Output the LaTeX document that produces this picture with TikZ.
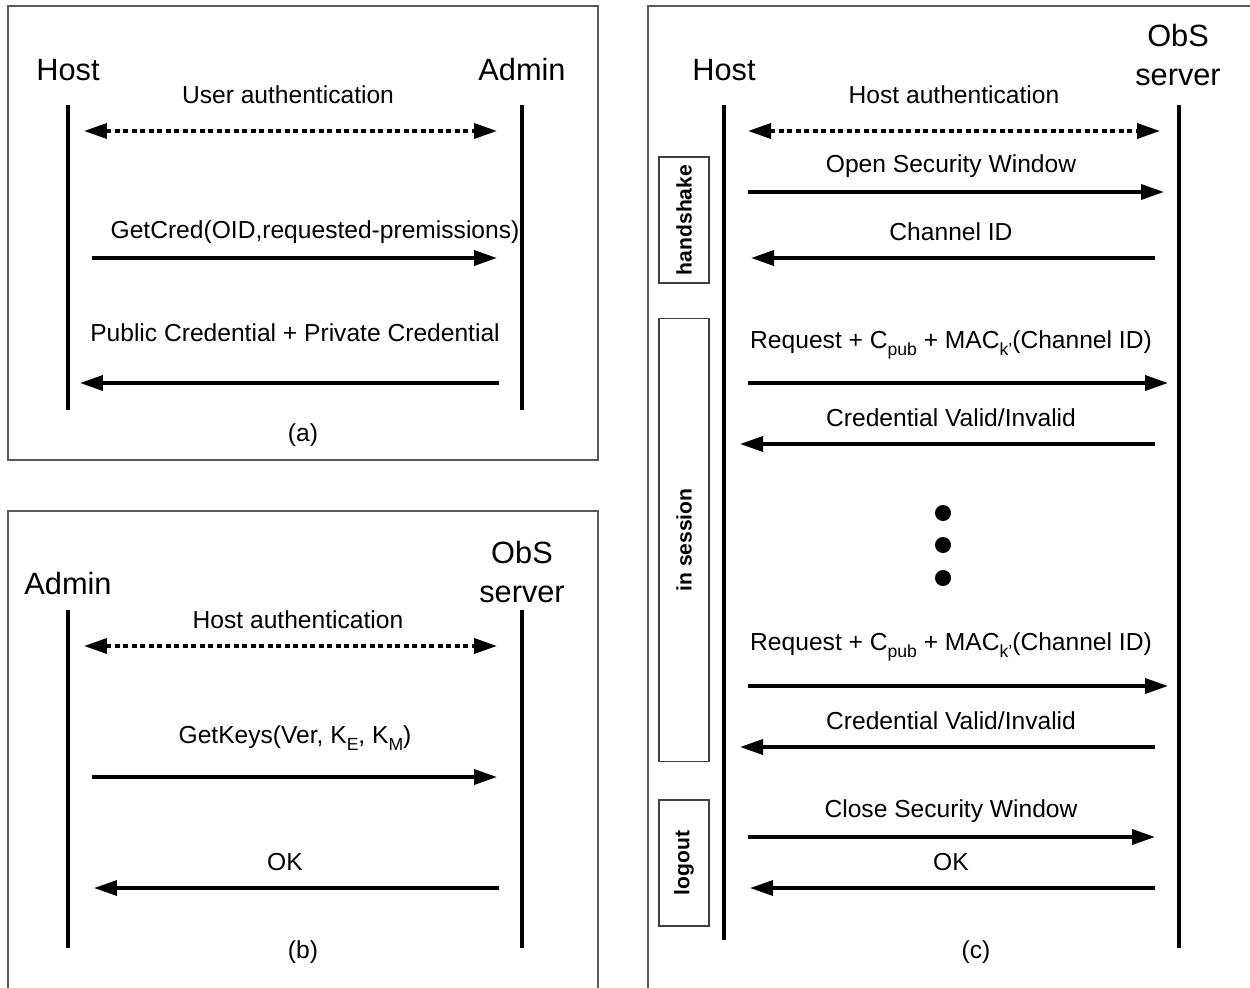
\documentclass[tikz,border=0pt]{standalone}
\usepackage{fontspec}
\setmainfont{Liberation Sans}
\usetikzlibrary{arrows.meta}
\newcommand{\lsub}[1]{\raisebox{-0.55ex}{\fontsize{10}{12}\selectfont #1}}
\begin{document}
\begin{tikzpicture}[x=0.02cm,y=-0.02cm,
  lbl/.style={font=\fontsize{14}{16}\selectfont, inner sep=0pt},
  actor/.style={font=\fontsize{17.5}{22}\selectfont, inner sep=0pt, align=center},
  life/.style={line width=2pt},
  msg/.style={line width=2pt, -{Triangle[length=0.46cm,width=0.3cm]}},
  dmsg/.style={line width=2pt, {Triangle[length=0.46cm,width=0.3cm]}-{Triangle[length=0.46cm,width=0.3cm]}, dash pattern=on 0.1cm off 0.07cm},
  frame/.style={draw=black!65, line width=0.8pt},
  phase/.style={draw=black!75, line width=0.6pt, minimum height=1cm, font=\bfseries\fontsize{12}{14}\selectfont, inner sep=0pt},
  dot/.style={circle, fill=black, inner sep=0pt, minimum size=0.32cm}]
\useasboundingbox (0,0) rectangle (1250,987);
\fill[white] (0,0) rectangle (1250,987);

% ---------- frames ----------
\draw[frame] (8,6) rectangle (598,460);
\draw[frame] (8,511) rectangle (598,992);
\draw[frame] (648,6) rectangle (1254,992);

% ---------- panel (a) ----------
\node[actor] (aHost) at (68,70) {Host};
\node[actor] (aAdmin) at (522,70) {Admin};
\coordinate (aH1) at (68,105); \coordinate (aH2) at (68,410);
\coordinate (aA1) at (522,105); \coordinate (aA2) at (522,410);
\draw[life] (aH1) -- (aH2);
\draw[life] (aA1) -- (aA2);
\node[lbl] (aL1) at (288,95) {User authentication};
\coordinate (a1s) at (84,131); \coordinate (a1e) at (497,131);
\draw[dmsg] (a1s) -- (a1e);
\node[lbl] (aL2) at (315,232) {GetCred(OID,requested-premissions)};
\coordinate (a2s) at (92,258); \coordinate (a2e) at (497,258);
\draw[msg] (a2s) -- (a2e);
\node[lbl] (aL3) at (295,333) {Public Credential + Private Credential};
\coordinate (a3s) at (499,383); \coordinate (a3e) at (80,383);
\draw[msg] (a3s) -- (a3e);
\node[lbl] (aCap) at (303,435) {(a)};

% ---------- panel (b) ----------
\node[actor] (bAdmin) at (68,584) {Admin};
\node[actor] (bObS) at (522,572) {ObS\\server};
\coordinate (bA1) at (68,610); \coordinate (bA2) at (68,948);
\coordinate (bO1) at (522,610); \coordinate (bO2) at (522,948);
\draw[life] (bA1) -- (bA2);
\draw[life] (bO1) -- (bO2);
\node[lbl] (bL1) at (298,620) {Host authentication};
\coordinate (b1s) at (84,646); \coordinate (b1e) at (497,646);
\draw[dmsg] (b1s) -- (b1e);
\node[lbl] (bL2) at (295,738) {GetKeys(Ver, K\lsub{E}, K\lsub{M})};
\coordinate (b2s) at (92,777); \coordinate (b2e) at (497,777);
\draw[msg] (b2s) -- (b2e);
\node[lbl] (bL3) at (285,862) {OK};
\coordinate (b3s) at (499,888); \coordinate (b3e) at (94,888);
\draw[msg] (b3s) -- (b3e);
\node[lbl] (bCap) at (303,952) {(b)};

% ---------- panel (c) ----------
\node[actor] (cHost) at (724,70) {Host};
\node[actor] (cObS) at (1178,55) {ObS\\server};
\coordinate (cH1) at (724,105); \coordinate (cH2) at (724,940);
\coordinate (cO1) at (1179,105); \coordinate (cO2) at (1179,948);
\draw[life] (cH1) -- (cH2);
\draw[life] (cO1) -- (cO2);

\node[phase, minimum width=2.52cm, rotate=90] (hs) at (684,220) {handshake};
\node[phase, minimum width=8.88cm, rotate=90] (ins) at (684,540) {in session};
\node[phase, minimum width=2.52cm, rotate=90] (lo) at (684,863) {logout};

\node[lbl] (cL1) at (954,95) {Host authentication};
\coordinate (c1s) at (748,131); \coordinate (c1e) at (1160,131);
\draw[dmsg] (c1s) -- (c1e);

\node[lbl] (cL2) at (951,166) {Open Security Window};
\coordinate (c2s) at (748,192); \coordinate (c2e) at (1164,192);
\draw[msg] (c2s) -- (c2e);

\node[lbl] (cL3) at (951,232) {Channel ID};
\coordinate (c3s) at (1155,258); \coordinate (c3e) at (751,258);
\draw[msg] (c3s) -- (c3e);

\node[lbl] (cL4) at (951,345) {Request + C\lsub{pub} + MAC\lsub{k'}(Channel ID)};
\coordinate (c4s) at (748,383); \coordinate (c4e) at (1168,383);
\draw[msg] (c4s) -- (c4e);

\node[lbl] (cL5) at (951,418) {Credential Valid/Invalid};
\coordinate (c5s) at (1155,444); \coordinate (c5e) at (740,444);
\draw[msg] (c5s) -- (c5e);

\node[dot] (d1) at (943,513) {};
\node[dot] (d2) at (943,545) {};
\node[dot] (d3) at (943,578) {};

\node[lbl] (cL6) at (951,647) {Request + C\lsub{pub} + MAC\lsub{k'}(Channel ID)};
\coordinate (c6s) at (748,686); \coordinate (c6e) at (1168,686);
\draw[msg] (c6s) -- (c6e);

\node[lbl] (cL7) at (951,721) {Credential Valid/Invalid};
\coordinate (c7s) at (1155,747); \coordinate (c7e) at (740,747);
\draw[msg] (c7s) -- (c7e);

\node[lbl] (cL8) at (951,811) {Close Security Window};
\coordinate (c8s) at (748,837); \coordinate (c8e) at (1155,837);
\draw[msg] (c8s) -- (c8e);

\node[lbl] (cL9) at (951,862) {OK};
\coordinate (c9s) at (1155,888); \coordinate (c9e) at (750,888);
\draw[msg] (c9s) -- (c9e);

\node[lbl] (cCap) at (976,952) {(c)};
\end{tikzpicture}
\end{document}
